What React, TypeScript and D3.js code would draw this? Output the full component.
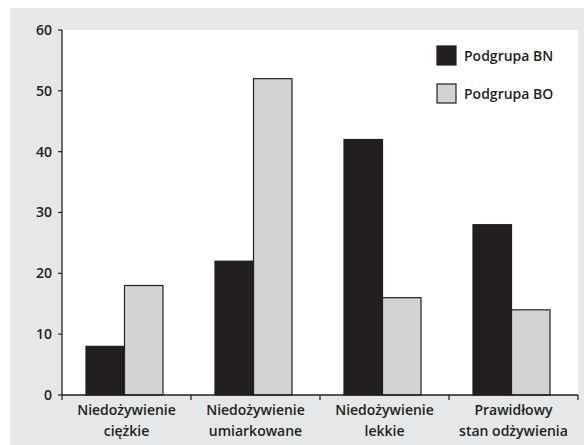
import * as d3 from 'd3'

const CATEGORIES = [
  ['Niedożywienie', 'ciężkie'],
  ['Niedożywienie', 'umiarkowane'],
  ['Niedożywienie', 'lekkie'],
  ['Prawidłowy', 'stan odżywienia'],
]
const SERIES = ['Podgrupa BN', 'Podgrupa BO']
const BN_VALUES = [8, 22, 42, 28]
const BO_VALUES = [18, 52, 16, 14]
const Y_TICKS = [0, 10, 20, 30, 40, 50, 60]

const W = 584
const H = 445
const PLOT = { left: 62, right: 578, top: 30, bottom: 395 }
const COLORS = ['#231f20', '#d1d3d4']
const PANEL_BG = '#e6e7e8'
const INK = '#231f20'
const FONT = "'Open Sans', 'Noto Sans', sans-serif"

export default function App() {
  const x = d3
    .scaleBand<number>()
    .domain(d3.range(CATEGORIES.length))
    .range([PLOT.left, PLOT.right])
  const y = d3.scaleLinear().domain([0, 60]).range([PLOT.bottom, PLOT.top])
  const barW = 38.5
  const series = [BN_VALUES, BO_VALUES]

  const boundaries = d3.range(CATEGORIES.length + 1).map((i) => PLOT.left + i * x.bandwidth())

  return (
    <svg width={W} height={H} style={{ position: 'absolute', left: 0, top: 0 }} fontFamily={FONT} fontWeight={600}>
      <rect x={10} y={8} width={W - 10} height={H - 8} fill={PANEL_BG} />
      <rect x={PLOT.left} y={PLOT.top} width={PLOT.right - PLOT.left} height={PLOT.bottom - PLOT.top} fill="#fff" />

      {/* bars */}
      {series.map((vals, s) =>
        vals.map((v, i) => {
          const cx = x(i)! + x.bandwidth() / 2 - 2
          const bx = cx - barW + s * barW
          return (
            <rect
              key={`${s}-${i}`}
              x={bx}
              y={y(v)}
              width={barW}
              height={y(0) - y(v)}
              fill={COLORS[s]}
              stroke={INK}
              strokeWidth={1.2}
            />
          )
        })
      )}

      {/* y axis */}
      <line x1={PLOT.left} x2={PLOT.left} y1={PLOT.top} y2={PLOT.bottom} stroke={INK} strokeWidth={1.3} />
      {Y_TICKS.map((t) => (
        <g key={t} transform={`translate(0,${y(t)})`}>
          <line x1={PLOT.left - 4} x2={PLOT.left} stroke={INK} strokeWidth={1.2} />
          <text x={PLOT.left - 10} dy="0.35em" textAnchor="end" fontSize={14} fill={INK}>
            {t}
          </text>
        </g>
      ))}

      {/* x axis */}
      <line x1={PLOT.left} x2={PLOT.right} y1={PLOT.bottom} y2={PLOT.bottom} stroke={INK} strokeWidth={1.3} />
      {boundaries.map((bx, i) => (
        <line key={i} x1={bx} x2={bx} y1={PLOT.bottom} y2={PLOT.bottom + 5} stroke={INK} strokeWidth={1.2} />
      ))}
      {CATEGORIES.map((lines, i) => (
        <text key={i} textAnchor="middle" fontSize={14} fill={INK}>
          {lines.map((l, j) => (
            <tspan key={j} x={x(i)! + x.bandwidth() / 2} y={415 + j * 21}>
              {l}
            </tspan>
          ))}
        </text>
      ))}

      {/* legend */}
      {SERIES.map((name, s) => (
        <g key={name} transform={`translate(437,${46 + s * 38})`}>
          <rect width={19} height={19} fill={COLORS[s]} stroke={INK} strokeWidth={1.2} />
          <text x={27} y={15} fontSize={14} fill={INK}>
            {name}
          </text>
        </g>
      ))}
    </svg>
  )
}
